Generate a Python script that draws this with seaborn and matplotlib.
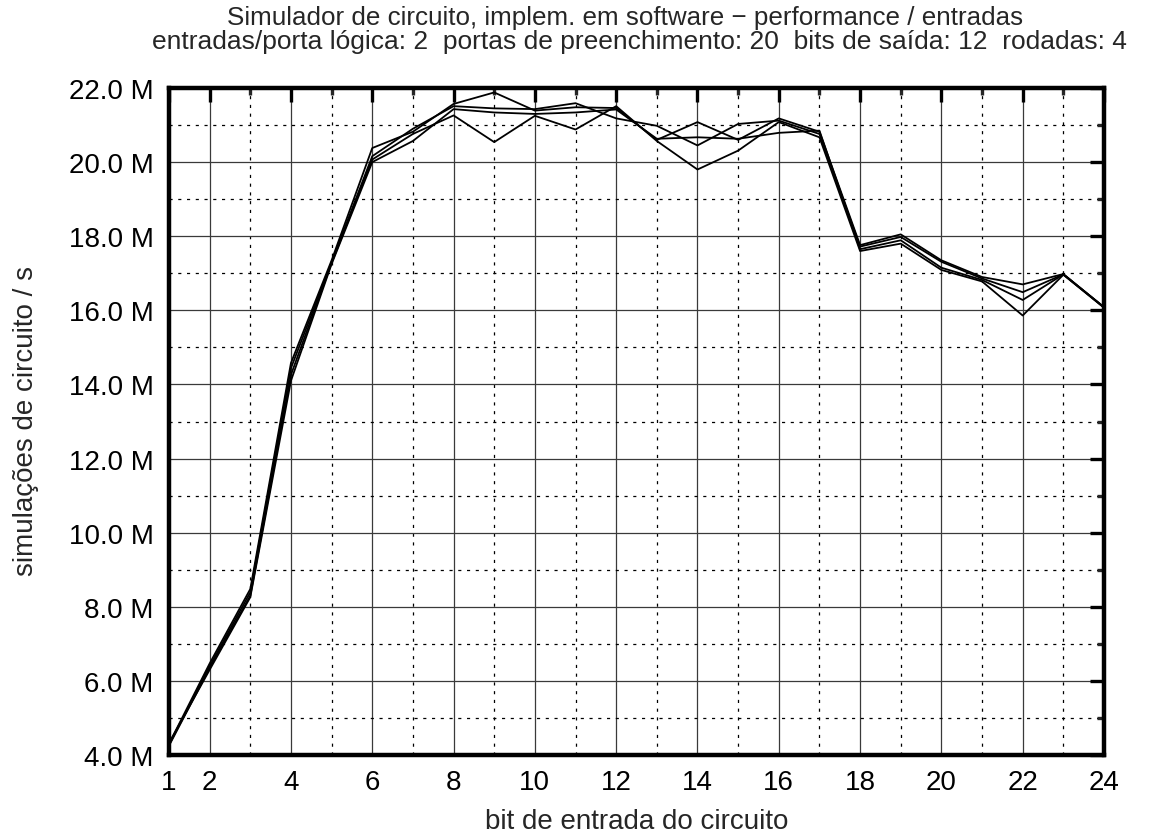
import numpy as np
import pandas as pd
import matplotlib
matplotlib.use("Agg")
import matplotlib.pyplot as plt
import seaborn as sns
from matplotlib.ticker import FixedLocator, FuncFormatter

# input bits of the circuit (x axis)
bits = list(range(1, 25))

# circuit simulations per second, in millions, one list per run
run_1 = [4.30, 6.47, 8.48, 14.58, 17.35, 20.38, 20.82, 21.57, 21.88, 21.39, 21.48, 21.46,
         20.60, 21.08, 20.60, 21.18, 20.82, 17.76, 18.05, 17.35, 16.90, 16.70, 16.98, 16.08]
run_2 = [4.27, 6.40, 8.39, 14.44, 17.30, 20.16, 20.90, 21.51, 21.45, 21.43, 21.59, 21.18,
         20.98, 20.45, 21.03, 21.12, 20.76, 17.72, 17.98, 17.31, 16.86, 16.49, 16.97, 16.08]
run_3 = [4.25, 6.35, 8.30, 14.26, 17.28, 20.07, 20.76, 21.26, 20.54, 21.25, 20.88, 21.51,
         20.57, 19.80, 20.31, 21.08, 20.67, 17.60, 17.80, 17.09, 16.78, 15.86, 16.96, 16.07]
run_4 = [4.32, 6.30, 8.26, 14.10, 17.25, 20.00, 20.57, 21.43, 21.34, 21.30, 21.34, 21.42,
         20.63, 20.67, 20.63, 20.79, 20.85, 17.65, 17.89, 17.15, 16.82, 16.28, 16.97, 16.09]

x_ticks = [1, 2, 4, 6, 8, 10, 12, 14, 16, 18, 20, 22, 24]
x_minor = [3, 5, 7, 9, 11, 13, 15, 17, 19, 21, 23]
y_ticks = [4, 6, 8, 10, 12, 14, 16, 18, 20, 22]
y_minor = [5, 7, 9, 11, 13, 15, 17, 19, 21]

title_1 = "Simulador de circuito, implem. em software \u2212 performance / entradas"
title_2 = "entradas/porta l\u00f3gica: 2  portas de preenchimento: 20  bits de sa\u00edda: 12  rodadas: 4"
x_label = "bit de entrada do circuito"
y_label = "simula\u00e7\u00f5es de circuito / s"

runs = [run_1, run_2, run_3, run_4]
df = pd.DataFrame({
    "bit": np.tile(bits, len(runs)),
    "sims": np.concatenate(runs),
    "run": np.repeat(np.arange(1, len(runs) + 1), len(bits)),
})

sns.set_theme(style="white")
plt.rcParams["font.family"] = ["Liberation Sans", "DejaVu Sans"]

W, H = 1153, 837
fig = plt.figure(figsize=(W / 100, H / 100), dpi=100)
left, right, top, bottom = 169, 1104, 89, 756
ax = fig.add_axes([left / W, 1 - bottom / H, (right - left) / W, (bottom - top) / H])

sns.lineplot(data=df, x="bit", y="sims", units="run", estimator=None,
             color="black", linewidth=1.3, ax=ax, legend=False)

ax.set_xlim(1, 24)
ax.set_ylim(4, 22)

ax.xaxis.set_major_locator(FixedLocator(x_ticks))
ax.xaxis.set_minor_locator(FixedLocator(x_minor))
ax.yaxis.set_major_locator(FixedLocator(y_ticks))
ax.yaxis.set_minor_locator(FixedLocator(y_minor))
ax.yaxis.set_major_formatter(FuncFormatter(lambda v, p: f"{v:.1f} M"))
ax.xaxis.set_major_formatter(FuncFormatter(lambda v, p: f"{int(v)}"))

ax.grid(which="major", color="#3a3a3a", linestyle="-", linewidth=0.9, zorder=0)
ax.grid(which="minor", color="black", linestyle=(0, (2.5, 4.5)), linewidth=0.9, zorder=0)
ax.set_axisbelow(True)

ax.tick_params(which="major", direction="in", length=10, width=2.4,
               top=True, right=True, labelsize=20, colors="black")
ax.tick_params(which="minor", direction="in", length=5, width=2.4,
               top=True, right=True)
ax.tick_params(axis="x", which="major", pad=10)
ax.tick_params(axis="y", which="major", pad=11)

for s in ax.spines.values():
    s.set_linewidth(3.2)
    s.set_color("black")

ax.set_xlabel("")
ax.set_ylabel("")
fig.text(637 / W, 1 - 822 / H, x_label, fontsize=20, ha="center", va="center")
fig.text(26 / W, 1 - 421 / H, y_label, fontsize=20, ha="center", va="center",
         rotation=90)

fig.text(625 / W, 1 - 18 / H, title_1, fontsize=18.7, ha="center", va="center")
fig.text(639 / W, 1 - 42 / H, title_2, fontsize=19, ha="center", va="center")

fig.savefig("out.png", dpi=100, facecolor="white")
